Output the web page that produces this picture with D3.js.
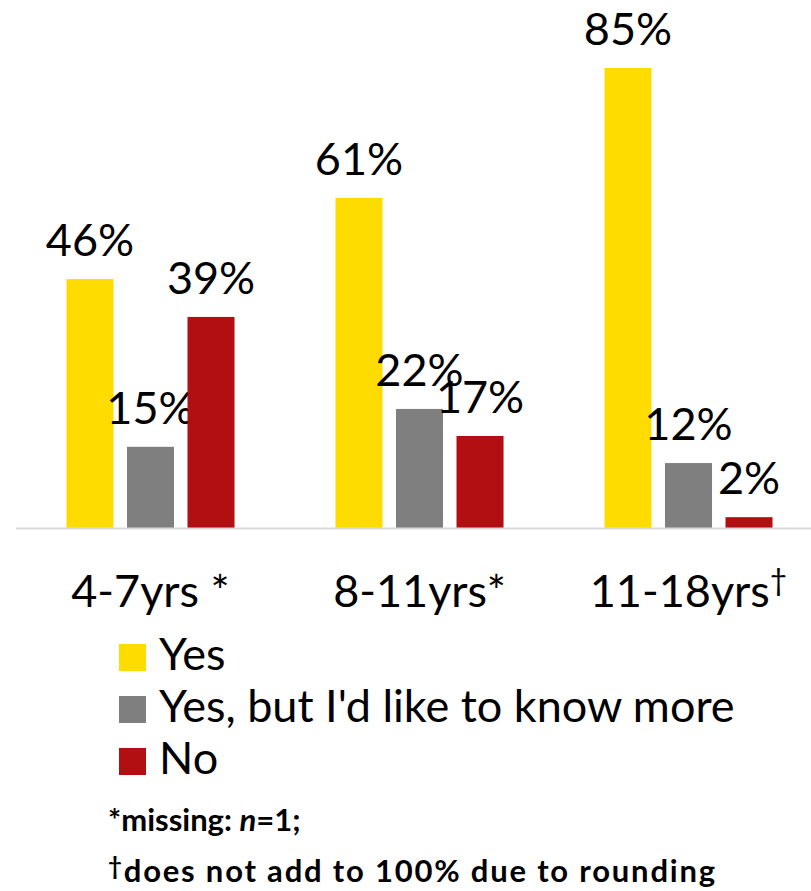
<!DOCTYPE html>
<html>
<head>
<meta charset="utf-8">
<script src="https://cdn.jsdelivr.net/npm/d3@7"></script>
<style>
  html, body { margin: 0; padding: 0; background: #fff; }
  svg { display: block; }
  text { font-family: Lato, "Open Sans", sans-serif; fill: #000; }
</style>
</head>
<body>
<svg id="chart" width="811" height="891"></svg>
<script>
// Age groups and their footnote marks
const categories = ["4-7yrs", "8-11yrs", "11-18yrs"];
const categoryMarks = [" *", "*", "†"];

// Response series
const seriesNames = ["Yes", "Yes, but I'd like to know more", "No"];
const seriesColors = ["#FFDC00", "#7F7F7F", "#B20F12"];

// Percentages per series, in category order
const yesValues = [46, 61, 85];
const yesMoreValues = [15, 22, 12];
const noValues = [39, 17, 2];
const seriesValues = [yesValues, yesMoreValues, noValues];

const footnotes = ["*missing: ", "†does not add to 100% due to rounding"];

const svg = d3.select("#chart");
const W = 811;
const baseline = 528;

const x0 = d3.scaleBand().domain(categories).range([16, 823]).padding(0);
const x1 = d3.scaleBand().domain(d3.range(seriesNames.length))
  .range([0, x0.bandwidth()]).paddingInner(0.223).paddingOuter(0.834);
const y = d3.scaleLinear().domain([0, 85]).range([baseline, 68]);

// Bars and value labels
categories.forEach((cat, ci) => {
  const g = svg.append("g").attr("transform", `translate(${x0(cat)},0)`);
  seriesValues.forEach((vals, si) => {
    const v = vals[ci];
    g.append("rect")
      .attr("x", x1(si))
      .attr("y", y(v))
      .attr("width", x1.bandwidth())
      .attr("height", baseline - y(v))
      .attr("fill", seriesColors[si]);
    g.append("text")
      .attr("x", x1(si) + x1.bandwidth() / 2)
      .attr("y", y(v) - 23)
      .attr("text-anchor", "middle")
      .attr("font-size", 45)
      .text(v + "%");
  });
});

// Category axis line
svg.append("line")
  .attr("x1", 16).attr("x2", W)
  .attr("y1", baseline + 0.5).attr("y2", baseline + 0.5)
  .attr("stroke", "#D9D9D9").attr("stroke-width", 2);

// Category labels
categories.forEach((cat, ci) => {
  const t = svg.append("text")
    .attr("x", x0(cat) + x0.bandwidth() / 2)
    .attr("y", 607)
    .attr("text-anchor", "middle")
    .attr("font-size", 45);
  t.append("tspan").text(cat);
  if (categoryMarks[ci] === "†") {
    t.append("tspan").attr("font-size", 30).attr("dy", -16).text("†");
  } else {
    t.append("tspan").text(categoryMarks[ci]);
  }
});

// Legend
const legend = svg.append("g").attr("transform", "translate(119,644)");
seriesNames.forEach((name, i) => {
  const row = legend.append("g").attr("transform", `translate(0,${i * 52})`);
  row.append("rect").attr("width", 27).attr("height", 27).attr("fill", seriesColors[i]);
  row.append("text").attr("x", 40).attr("y", 26).attr("font-size", 45).text(name);
});

// Footnotes
const f1 = svg.append("text").attr("x", 108).attr("y", 831)
  .attr("font-size", 31).attr("font-weight", "bold");
f1.append("tspan").text(footnotes[0]);
f1.append("tspan").attr("font-style", "italic").text("n");
f1.append("tspan").text("=1;");

const f2 = svg.append("text").attr("x", 108).attr("y", 882)
  .attr("font-size", 31).attr("font-weight", "bold")
  .attr("letter-spacing", 1.8);
f2.append("tspan").attr("font-size", 24).attr("dy", -7).text("†");
f2.append("tspan").attr("dy", 7).text(footnotes[1].slice(1));
</script>
</body>
</html>
